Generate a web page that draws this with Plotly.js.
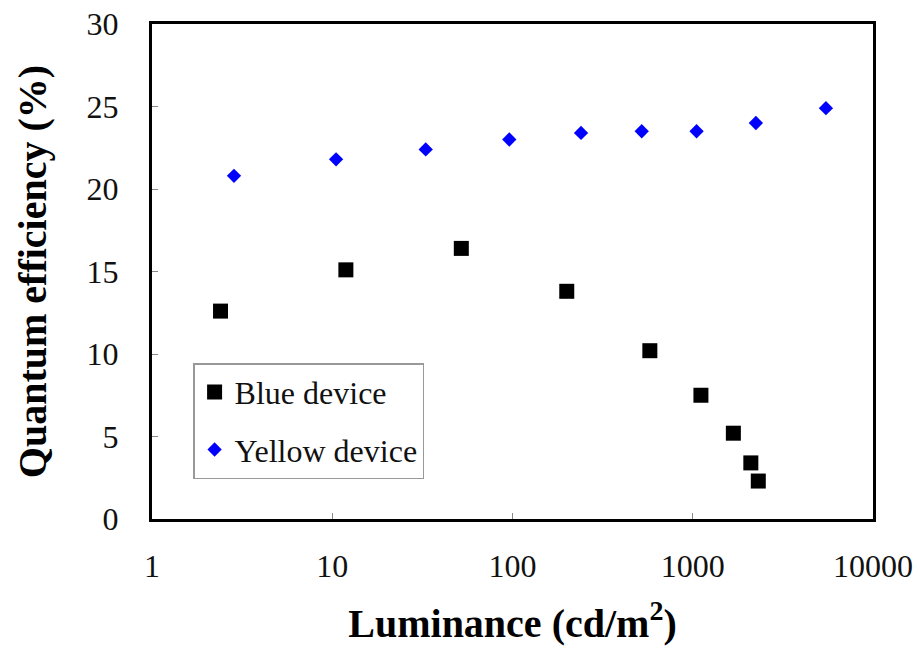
<!DOCTYPE html>
<html>
<head>
<meta charset="utf-8">
<script src="https://cdn.plot.ly/plotly-3.0.1.min.js"></script>
<style>
html,body{margin:0;padding:0;background:#fff;}
#chart{width:920px;height:649px;}
</style>
</head>
<body>
<div id="chart"></div>
<script>
// Data
const blueLum = [2.4, 11.9, 52, 200, 578, 1110, 1680, 2100, 2310];
const blueQE  = [12.6, 15.1, 16.4, 13.8, 10.2, 7.5, 5.2, 3.4, 2.3];
const yellowLum = [2.85, 10.5, 33, 96, 240, 521, 1050, 2240, 5480];
const yellowQE  = [20.8, 21.8, 22.4, 23.0, 23.4, 23.5, 23.5, 24.0, 24.9];
const xTickVals = [1, 10, 100, 1000, 10000];
const xTickText = ["1", "10", "100", "1000", "10000"];
const yTickVals = [0, 5, 10, 15, 20, 25, 30];

const serif = "Liberation Serif, Times New Roman, serif";

const traces = [
  {
    x: blueLum, y: blueQE, type: "scatter", mode: "markers",
    name: "Blue device", legendgroup: "b",
    marker: {symbol: "square", size: 15, color: "#000000"}
  },
  {
    x: yellowLum, y: yellowQE, type: "scatter", mode: "markers",
    name: "Yellow device", legendgroup: "y",
    marker: {symbol: "diamond", size: 11, color: "#0000ff"}
  }
];

const layout = {
  width: 920, height: 649,
  margin: {l: 152, r: 47, t: 24, b: 130},
  paper_bgcolor: "#ffffff", plot_bgcolor: "#ffffff",
  font: {family: serif, color: "#111111", size: 32},
  showlegend: true,
  legend: {
    x: 0.057, y: 0.315, xanchor: "left", yanchor: "top",
    bgcolor: "#ffffff", bordercolor: "#999999", borderwidth: 1.5,
    font: {family: serif, size: 32, color: "#111111"},
    traceorder: "grouped", tracegroupgap: 13, itemwidth: 30
  },
  xaxis: {
    type: "log", range: [0, 4],
    tickvals: xTickVals, ticktext: xTickText,
    ticks: "inside", ticklen: 6, tickwidth: 1, tickcolor: "#888888",
    showline: true, linecolor: "#000000", linewidth: 3, mirror: true,
    showgrid: false, zeroline: false,
    ticklabelstandoff: 17,
    tickfont: {family: serif, size: 32, color: "#111111"},
    title: {text: "Luminance (cd/m<sup>2</sup>)", standoff: 26,
            font: {family: serif, size: 40, color: "#000000", weight: "bold"}}
  },
  yaxis: {
    range: [0, 30], tickvals: yTickVals,
    ticks: "inside", ticklen: 6, tickwidth: 1, tickcolor: "#888888",
    showline: true, linecolor: "#000000", linewidth: 3, mirror: true,
    showgrid: false, zeroline: false,
    ticklabelstandoff: 24,
    tickfont: {family: serif, size: 32, color: "#111111"},
    title: {text: "Quantum efficiency (%)", standoff: 28,
            font: {family: serif, size: 40, color: "#000000", weight: "bold"}}
  }
};

Plotly.newPlot("chart", traces, layout, {staticPlot: true, displayModeBar: false});
</script>
</body>
</html>
